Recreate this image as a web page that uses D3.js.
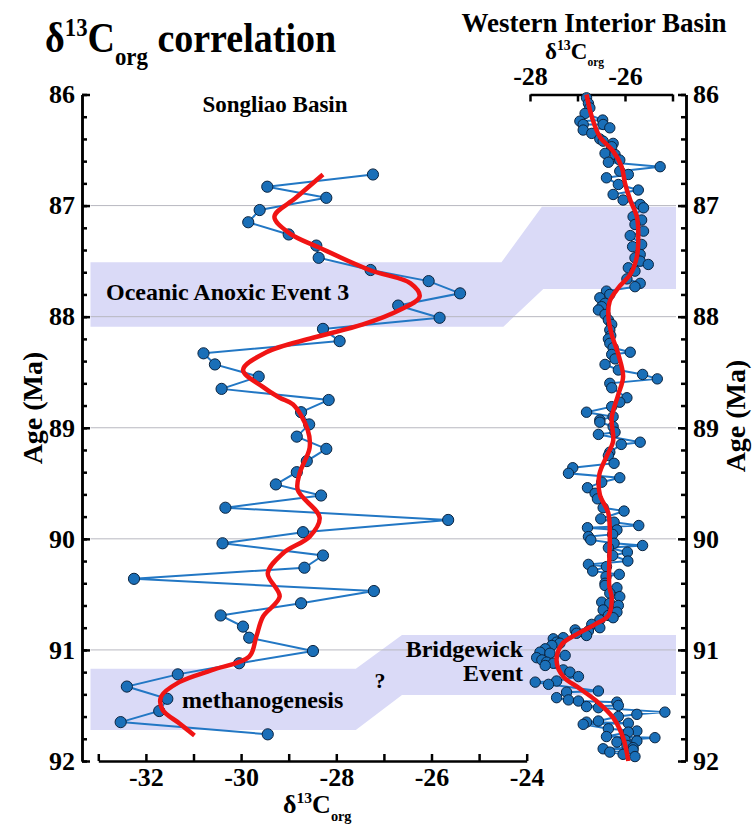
<!DOCTYPE html>
<html>
<head>
<meta charset="utf-8">
<script src="https://cdn.jsdelivr.net/npm/d3@7"></script>
<style>
  html, body { margin: 0; padding: 0; background: #fff; }
  svg text { font-family: "Liberation Serif", "Times New Roman", serif; font-weight: bold; fill: #000; }
</style>
</head>
<body>
<svg id="chart" width="753" height="825"></svg>
<script>
// Songliao Basin δ13Corg record (age in Ma, value in ‰)
const songliaoAge = [86.72, 86.83, 86.93, 87.04, 87.15, 87.26, 87.36, 87.47, 87.58, 87.68,
  87.79, 87.90, 88.01, 88.11, 88.22, 88.33, 88.43, 88.54, 88.65, 88.75,
  88.86, 88.97, 89.08, 89.19, 89.30, 89.40, 89.51, 89.61, 89.72, 89.83,
  89.94, 90.04, 90.15, 90.26, 90.36, 90.47, 90.58, 90.69, 90.79, 90.89,
  91.01, 91.12, 91.22, 91.33, 91.44, 91.55, 91.65, 91.76];
const songliaoD13C = [-27.23, -29.45, -28.21, -29.61, -29.85, -29.00, -28.42, -28.37, -27.28, -26.06,
  -25.40, -26.70, -25.83, -28.28, -27.93, -30.79, -30.55, -29.63, -30.41, -28.16,
  -28.74, -28.57, -28.83, -28.21, -28.62, -28.83, -29.27, -28.32, -30.33, -25.65,
  -28.70, -30.39, -28.28, -28.67, -32.25, -27.21, -28.74, -30.43, -29.96, -29.83,
  -28.49, -30.04, -31.33, -32.40, -31.55, -31.72, -32.53, -29.44];

// Smoothed Songliao trend
const songliaoTrendAge = [86.72, 86.93, 87.10, 87.25, 87.38, 87.58, 87.70, 87.82, 87.94, 88.07,
  88.19, 88.32, 88.48, 88.63, 88.73, 88.79, 89.02, 89.18, 89.41, 89.56,
  89.81, 89.98, 90.13, 90.31, 90.52, 90.70, 90.88, 91.06, 91.18, 91.29,
  91.42, 91.54, 91.66, 91.77];
const songliaoTrendD13C = [-28.28, -28.85, -29.30, -28.98, -28.35, -27.30, -26.44, -26.25, -26.67, -27.44,
  -28.49, -29.47, -29.96, -29.55, -29.19, -28.91, -28.60, -28.56, -28.77, -28.81,
  -28.35, -28.56, -29.12, -29.44, -29.19, -29.54, -29.68, -29.83, -30.60, -31.30,
  -31.68, -31.65, -31.30, -30.98];

// Western Interior Basin δ13Corg record
const wibAge = [86.03, 86.08, 86.12, 86.17, 86.23, 86.24, 86.27, 86.27, 86.30, 86.32,
  86.35, 86.40, 86.42, 86.44, 86.47, 86.53, 86.54, 86.59, 86.61, 86.65,
  86.69, 86.72, 86.75, 86.81, 86.86, 86.90, 86.95, 86.99, 87.02, 87.10,
  87.13, 87.17, 87.23, 87.27, 87.35, 87.37, 87.44, 87.47, 87.50, 87.53,
  87.56, 87.59, 87.66, 87.70, 87.73, 87.77, 87.80, 87.83, 87.88, 87.91,
  87.94, 87.98, 88.03, 88.07, 88.12, 88.17, 88.20, 88.24, 88.28, 88.32,
  88.34, 88.38, 88.43, 88.48, 88.52, 88.56, 88.60, 88.64, 88.73, 88.77,
  88.81, 88.86, 88.90, 88.93, 88.95, 88.99, 89.04, 89.06, 89.13, 89.15,
  89.22, 89.25, 89.32, 89.36, 89.41, 89.45, 89.49, 89.54, 89.59, 89.64,
  89.72, 89.75, 89.82, 89.85, 89.88, 89.90, 89.92, 89.96, 89.98, 90.01,
  90.04, 90.06, 90.08, 90.12, 90.15, 90.20, 90.23, 90.25, 90.29, 90.32,
  90.34, 90.40, 90.42, 90.44, 90.49, 90.52, 90.57, 90.58, 90.60, 90.64,
  90.66, 90.69, 90.71, 90.73, 90.77, 90.80, 90.82, 90.83, 90.85, 90.87,
  90.89, 90.90, 90.93, 90.94, 90.96, 90.99, 91.02, 91.03, 91.05, 91.07,
  91.09, 91.11, 91.12, 91.14, 91.18, 91.20, 91.24, 91.28, 91.29, 91.31,
  91.37, 91.38, 91.43, 91.45, 91.46, 91.47, 91.50, 91.51, 91.52, 91.56,
  91.58, 91.60, 91.64, 91.65, 91.66, 91.67, 91.71, 91.73, 91.74, 91.78,
  91.79, 91.81, 91.82, 91.83, 91.86, 91.88, 91.89, 91.90, 91.92, 91.94,
  91.96];
const wibD13C = [-26.81, -26.77, -26.74, -26.84, -26.47, -26.95, -26.88, -26.46, -26.32, -26.88,
  -26.70, -26.53, -26.46, -26.25, -26.28, -26.42, -26.21, -26.11, -26.35, -25.26,
  -26.11, -25.93, -26.39, -26.14, -25.72, -26.25, -26.04, -25.68, -25.61, -25.83,
  -25.65, -25.79, -25.61, -25.89, -25.65, -25.84, -25.68, -25.79, -25.68, -25.51,
  -25.93, -25.79, -25.96, -25.68, -25.79, -26.39, -26.32, -26.53, -26.42, -26.49,
  -26.56, -26.42, -26.35, -26.28, -26.32, -26.30, -26.35, -26.32, -26.25, -25.89,
  -26.28, -26.21, -26.42, -26.14, -25.63, -25.32, -26.32, -26.28, -25.96, -26.11,
  -26.28, -26.81, -26.25, -26.53, -26.53, -26.25, -26.21, -26.56, -25.68, -26.08,
  -26.32, -26.35, -26.23, -27.10, -27.19, -26.11, -26.49, -26.79, -26.63, -26.58,
  -26.46, -26.02, -26.51, -26.23, -25.71, -26.79, -26.17, -26.26, -26.77, -26.72,
  -26.23, -25.63, -26.35, -25.95, -26.26, -25.94, -26.77, -26.39, -26.68, -26.12,
  -26.40, -26.42, -26.42, -26.17, -26.32, -26.11, -26.49, -26.32, -26.14, -26.46,
  -26.17, -26.35, -26.25, -26.53, -26.70, -26.53, -27.05, -26.77, -27.02, -26.81,
  -27.30, -27.51, -27.44, -27.37, -27.54, -27.68, -27.79, -27.58, -27.26, -27.86,
  -27.75, -27.65, -27.51, -27.68, -27.30, -27.16, -26.98, -27.44, -27.89, -27.61,
  -26.56, -27.23, -27.44, -27.19, -26.98, -26.17, -26.14, -26.81, -26.56, -25.16,
  -25.75, -26.14, -26.56, -26.81, -25.93, -26.88, -26.35, -25.75, -25.93, -26.39,
  -25.37, -26.00, -25.75, -26.17, -25.96, -25.83, -26.46, -25.83, -26.32, -26.04,
  -25.79];

// Smoothed Western Interior trend
const wibTrendAge = [86.00, 86.20, 86.38, 86.51, 86.65, 86.80, 86.95, 87.10, 87.25, 87.46,
  87.62, 87.74, 87.86, 88.00, 88.16, 88.34, 88.54, 88.70, 88.91, 89.12,
  89.26, 89.42, 89.60, 89.77, 89.98, 90.19, 90.43, 90.53, 90.69, 90.77,
  90.86, 90.95, 91.10, 91.24, 91.34, 91.46, 91.61, 91.79, 92.00];
const wibTrendD13C = [-26.81, -26.70, -26.53, -26.25, -26.07, -26.00, -25.89, -25.75, -25.72, -25.75,
  -25.89, -26.14, -26.32, -26.35, -26.28, -26.14, -26.04, -26.14, -26.28, -26.25,
  -26.39, -26.54, -26.53, -26.35, -26.32, -26.33, -26.33, -26.28, -26.35, -26.63,
  -27.02, -27.33, -27.44, -27.30, -26.98, -26.60, -26.25, -26.04, -25.93];

// Axis ticks
const ageTicks = [86, 87, 88, 89, 90, 91, 92];
const ageMinorTicks = d3.range(86, 92.001, 0.2).map(v => +v.toFixed(1));
const songliaoTicks = [-32, -30, -28, -26, -24];
const songliaoMinorTicks = [-33, -32, -31, -30, -29, -28, -27, -26, -25, -24];
const wibTicks = [-28, -26];
const wibMinorTicks = [-28, -27, -26, -25];

// Event bands: Songliao-side ages and Western Interior-side ages
const oaeBand = { leftAges: [87.51, 88.09], rightAges: [87.01, 87.75] };
const bridgewickBand = { leftAges: [91.17, 91.72], rightAges: [90.865, 91.405] };

const svg = d3.select("#chart");

const y = d3.scaleLinear().domain([86, 92]).range([94.5, 761]);
const xL = d3.scaleLinear().domain([-33, -24]).range([98.3, 526.7]);
const xR = d3.scaleLinear().domain([-28, -25]).range([530, 672.5]);

const leftAxisX = 82, rightAxisX = 686;
const plotLeft = 90.5, plotRight = 676;

// ---- event bands ----
const bandFill = "#dadaf7";
function bandPath(b, joinTopX, joinTopX2, joinBotX, joinBotX2) {
  return d3.line()([
    [plotLeft, y(b.leftAges[0])], [joinTopX, y(b.leftAges[0])],
    [joinTopX2, y(b.rightAges[0])], [plotRight, y(b.rightAges[0])],
    [plotRight, y(b.rightAges[1])], [joinBotX2, y(b.rightAges[1])],
    [joinBotX, y(b.leftAges[1])], [plotLeft, y(b.leftAges[1])]
  ]) + "Z";
}
svg.append("path")
  .attr("d", bandPath(oaeBand, xL(-24.53), xR(-27.75), xL(-24.49), xR(-27.72)))
  .attr("fill", bandFill);
svg.append("path")
  .attr("d", bandPath(bridgewickBand, xL(-27.59), xL(-26.62), xL(-27.59), xL(-26.62)))
  .attr("fill", bandFill);

// ---- grid lines ----
svg.append("g").selectAll("line")
  .data(ageTicks.filter(a => a > 86 && a < 92))
  .join("line")
  .attr("x1", plotLeft).attr("x2", plotRight)
  .attr("y1", d => y(d)).attr("y2", d => y(d))
  .attr("stroke", "#b8b8c0").attr("stroke-width", 1);

// ---- axes ----
function styleAxis(g, fontSize) {
  g.select(".domain").attr("stroke", "#000").attr("stroke-width", 2.5);
  g.selectAll(".tick line").attr("stroke", "#000").attr("stroke-width", 2.5);
  g.selectAll("text").attr("font-size", fontSize).attr("font-family", null).attr("fill", "#000");
}

// left age axis
const gLm = svg.append("g").attr("transform", `translate(${leftAxisX},0)`)
  .call(d3.axisLeft(y).tickValues(ageMinorTicks).tickSize(-5).tickSizeOuter(0).tickFormat(""));
styleAxis(gLm, 26);
const gL = svg.append("g").attr("transform", `translate(${leftAxisX},0)`)
  .call(d3.axisLeft(y).tickValues(ageTicks).tickSize(-8).tickSizeOuter(0).tickPadding(7).tickFormat(d => String(d)));
styleAxis(gL, 26);

// right age axis
const gRm = svg.append("g").attr("transform", `translate(${rightAxisX},0)`)
  .call(d3.axisRight(y).tickValues(ageMinorTicks).tickSize(-5).tickSizeOuter(0).tickFormat(""));
styleAxis(gRm, 26);
const gR = svg.append("g").attr("transform", `translate(${rightAxisX},0)`)
  .call(d3.axisRight(y).tickValues(ageTicks).tickSize(-8).tickSizeOuter(0).tickPadding(7).tickFormat(d => String(d)));
styleAxis(gR, 26);

// Songliao bottom axis
const gB = svg.append("g").attr("transform", `translate(0,${y(92)})`)
  .call(d3.axisBottom(xL).tickValues(songliaoMinorTicks).tickSize(-7).tickSizeOuter(0)
    .tickPadding(7).tickFormat(d => songliaoTicks.includes(d) ? String(d) : ""));
styleAxis(gB, 26);

// Western Interior top axis
const gT = svg.append("g").attr("transform", `translate(0,${y(86)})`)
  .call(d3.axisTop(xR).tickValues(wibMinorTicks).tickSize(-7).tickSizeOuter(0)
    .tickPadding(10).tickFormat(d => wibTicks.includes(d) ? String(d) : ""));
styleAxis(gT, 26);

// ---- Songliao series ----
const songliao = songliaoAge.map((a, i) => ({ age: a, v: songliaoD13C[i] }));
svg.append("path")
  .datum(songliao)
  .attr("fill", "none").attr("stroke", "#2277c4").attr("stroke-width", 2)
  .attr("d", d3.line().x(d => xL(d.v)).y(d => y(d.age)));
svg.append("g").selectAll("circle")
  .data(songliao).join("circle")
  .attr("cx", d => xL(d.v)).attr("cy", d => y(d.age)).attr("r", 5.6)
  .attr("fill", "#1a6fb8").attr("stroke", "#0b2440").attr("stroke-width", 1);
const songliaoTrend = songliaoTrendAge.map((a, i) => ({ age: a, v: songliaoTrendD13C[i] }));
svg.append("path")
  .datum(songliaoTrend)
  .attr("fill", "none").attr("stroke", "#f01414").attr("stroke-width", 4.5)
  .attr("d", d3.line().curve(d3.curveCatmullRom.alpha(0.5)).x(d => xL(d.v)).y(d => y(d.age)));

// ---- Western Interior series ----
const wib = wibAge.map((a, i) => ({ age: a, v: wibD13C[i] }));
svg.append("path")
  .datum(wib)
  .attr("fill", "none").attr("stroke", "#2277c4").attr("stroke-width", 2)
  .attr("d", d3.line().x(d => xR(d.v)).y(d => y(d.age)));
svg.append("g").selectAll("circle")
  .data(wib).join("circle")
  .attr("cx", d => xR(d.v)).attr("cy", d => y(d.age)).attr("r", 5.2)
  .attr("fill", "#1a6fb8").attr("stroke", "#0b2440").attr("stroke-width", 1);
const wibTrend = wibTrendAge.map((a, i) => ({ age: a, v: wibTrendD13C[i] }));
svg.append("path")
  .datum(wibTrend)
  .attr("fill", "none").attr("stroke", "#f01414").attr("stroke-width", 4.5)
  .attr("d", d3.line().curve(d3.curveCatmullRom.alpha(0.5)).x(d => xR(d.v)).y(d => y(d.age)));

// ---- text ----
// δ13Corg with superscript mass number and subscript "org"
function isotopeLabel(t, size, subScale) {
  t.attr("font-size", size);
  t.append("tspan").text("δ");
  t.append("tspan").attr("font-size", size * 0.6).attr("dy", -size * 0.38).text("13");
  t.append("tspan").attr("dy", size * 0.38).text("C");
  t.append("tspan").attr("font-size", size * (subScale || 0.6)).attr("dy", size * 0.3).text("org");
  return t;
}

// title, slightly condensed
const title = svg.append("text").attr("transform", "translate(45,52) scale(0.905,1)");
isotopeLabel(title, 42);
title.append("tspan").attr("dy", -42 * 0.3).text(" correlation");

svg.append("text").attr("x", 594).attr("y", 32).attr("font-size", 27)
  .attr("text-anchor", "middle").text("Western Interior Basin");
isotopeLabel(svg.append("text").attr("x", 545).attr("y", 59), 23, 0.5);

svg.append("text").attr("x", 275).attr("y", 112).attr("font-size", 23)
  .attr("text-anchor", "middle").text("Songliao Basin");

isotopeLabel(svg.append("text").attr("x", 283).attr("y", 813), 26, 0.55);

svg.append("text").attr("transform", "translate(42,408) rotate(-90)")
  .attr("font-size", 28).attr("text-anchor", "middle").text("Age (Ma)");
svg.append("text").attr("transform", "translate(745,416) rotate(-90)")
  .attr("font-size", 28).attr("text-anchor", "middle").text("Age (Ma)");

svg.append("text").attr("x", 106).attr("y", 300).attr("font-size", 24).text("Oceanic Anoxic Event 3");
svg.append("text").attr("x", 182).attr("y", 708).attr("font-size", 24).text("methanogenesis");
svg.append("text").attr("x", 380).attr("y", 688).attr("font-size", 22).attr("font-weight", "normal")
  .attr("text-anchor", "middle").text("?");
svg.append("text").attr("x", 523).attr("y", 657).attr("font-size", 24)
  .attr("text-anchor", "end").text("Bridgewick");
svg.append("text").attr("x", 523).attr("y", 681).attr("font-size", 24)
  .attr("text-anchor", "end").text("Event");
</script>
</body>
</html>
